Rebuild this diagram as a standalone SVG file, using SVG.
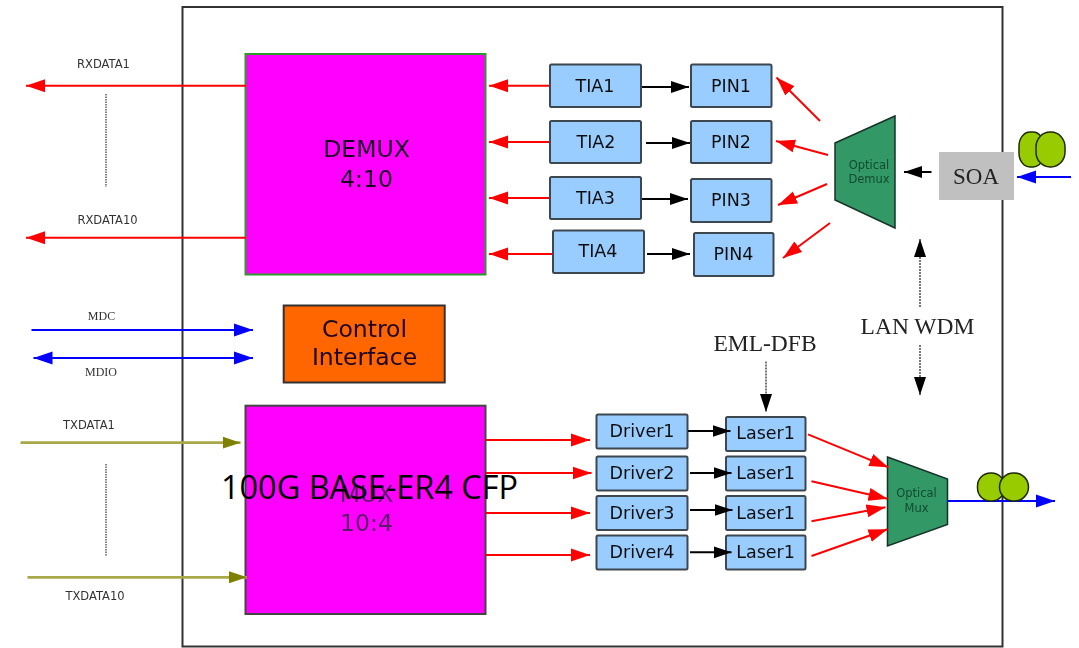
<svg xmlns="http://www.w3.org/2000/svg" width="1079" height="648" viewBox="0 0 1079 648">
<defs>
<filter id="soft" x="0" y="0" width="1079" height="648" filterUnits="userSpaceOnUse"><feGaussianBlur stdDeviation="0.7"/></filter>
<marker id="hr" markerUnits="userSpaceOnUse" markerWidth="20" markerHeight="14" refX="19" refY="7" orient="auto-start-reverse"><path d="M0 0.5L19 7L0 13.5Z" fill="#ff0000"/></marker>
<marker id="hk" markerUnits="userSpaceOnUse" markerWidth="20" markerHeight="14" refX="18" refY="7" orient="auto-start-reverse"><path d="M0 1L18 7L0 13Z" fill="#000000"/></marker>
<marker id="hb" markerUnits="userSpaceOnUse" markerWidth="20" markerHeight="14" refX="19" refY="7" orient="auto-start-reverse"><path d="M0 0.5L19 7L0 13.5Z" fill="#0000ff"/></marker>
<marker id="ho" markerUnits="userSpaceOnUse" markerWidth="20" markerHeight="14" refX="18" refY="7" orient="auto-start-reverse"><path d="M0 1L18 7L0 13Z" fill="#808000"/></marker>
</defs>
<style>
text{font-family:"DejaVu Sans",sans-serif;fill:#111;text-anchor:middle}
.serif{font-family:"Liberation Serif",serif;fill:#222}
.blk{fill:#99ccff;stroke:#3c4650;stroke-width:2}
.mag{fill:#ff00ff;stroke-width:2}
.opt{fill:#339966;stroke:#17332a;stroke-width:1.5}
.fib{fill:#99cc00;stroke:#1e2a00;stroke-width:1.5}
.lbl{font-size:17.5px}
.sm{font-size:11.5px;fill:#333}
.smserif{font-family:"Liberation Serif",serif;font-size:12px;fill:#333}
.big{font-size:23.5px;fill:#1a0426}
.optt{font-size:11.5px;fill:#104a30}
.wdm{font-size:23.5px}
.r{stroke:#ff0000;stroke-width:2;fill:none;marker-end:url(#hr)}
.k{stroke:#000;stroke-width:2;fill:none;marker-end:url(#hk)}
.d{stroke:#222;stroke-width:1.2;stroke-dasharray:2 1;fill:none;marker-end:url(#hk)}
.b{stroke:#0000ff;stroke-width:2;fill:none;marker-end:url(#hb)}
.o{stroke:#a8a84a;stroke-width:2.8;fill:none;marker-end:url(#ho)}
.dots{stroke:#666;stroke-width:1.6;stroke-dasharray:1.5 1;fill:none}
</style>
<g filter="url(#soft)">
<rect id="frame" x="182.5" y="7" width="820" height="639.5" fill="none" stroke="#333" stroke-width="2"/>
<g id="labels">
<text class="sm" x="103.5" y="67.5">RXDATA1</text>
<text class="sm" x="107.5" y="224">RXDATA10</text>
<text class="smserif" x="101.5" y="320">MDC</text>
<text class="smserif" x="101" y="375.5">MDIO</text>
<text class="sm" x="89" y="429">TXDATA1</text>
<text class="sm" x="95" y="600">TXDATA10</text>
<text class="serif wdm" x="917.5" y="334">LAN WDM</text>
<text class="serif wdm" x="765" y="350.5">EML-DFB</text>
</g>
<g id="demux"><rect class="mag" x="245.5" y="54" width="240" height="220.5" stroke="#2f9a2f"/><text class="big" x="366.5" y="157">DEMUX</text><text class="big" x="366.5" y="186.5">4:10</text></g>
<g id="mux"><rect class="mag" x="245.5" y="405.7" width="240" height="208.3" stroke="#444"/><text class="big" x="366.5" y="502" style="fill:#5a1a6a">MUX</text><text class="big" x="366.5" y="531" style="fill:#5a1a6a">10:4</text></g>
<g id="control"><rect x="283.7" y="305.5" width="161" height="77" fill="#ff6600" stroke="#333" stroke-width="2"/><text class="big" x="364.5" y="337">Control</text><text class="big" x="364.5" y="365">Interface</text></g>
<g id="tia1"><rect class="blk" x="550" y="64.5" width="91" height="42.5" rx="1.5"/><text class="lbl" x="595" y="92">TIA1</text></g>
<g id="tia2"><rect class="blk" x="550" y="121" width="91" height="42" rx="1.5"/><text class="lbl" x="596" y="147.5">TIA2</text></g>
<g id="tia3"><rect class="blk" x="550" y="177" width="91" height="42" rx="1.5"/><text class="lbl" x="595.5" y="204">TIA3</text></g>
<g id="tia4"><rect class="blk" x="553" y="230.5" width="91" height="42.5" rx="1.5"/><text class="lbl" x="598" y="256.5">TIA4</text></g>
<g id="pin1"><rect class="blk" x="691" y="64.5" width="80.5" height="42.5" rx="1.5"/><text class="lbl" x="731" y="92">PIN1</text></g>
<g id="pin2"><rect class="blk" x="691" y="121" width="80.5" height="42" rx="1.5"/><text class="lbl" x="731" y="147.5">PIN2</text></g>
<g id="pin3"><rect class="blk" x="691" y="179" width="80.5" height="43" rx="1.5"/><text class="lbl" x="731" y="206">PIN3</text></g>
<g id="pin4"><rect class="blk" x="694" y="233" width="79.5" height="43" rx="1.5"/><text class="lbl" x="733.5" y="259.5">PIN4</text></g>
<g id="optical-demux"><polygon class="opt" points="835,143 895,116 895,228 835,200"/><text class="optt" x="869" y="168.5">Optical</text><text class="optt" x="869" y="183">Demux</text></g>
<g id="soa"><rect x="939" y="152" width="75" height="48" fill="#c0c0c0"/><text class="serif" style="font-size:23px" x="976" y="183.5">SOA</text></g>
<g id="fiber-in"><rect class="fib" x="1019" y="132" width="25" height="35" rx="11" ry="14"/><rect class="fib" x="1036" y="132" width="29" height="35" rx="14" ry="15"/></g>
<g id="driver1"><rect class="blk" x="596.5" y="414.5" width="91" height="34" rx="1.5"/><text class="lbl" x="642" y="437">Driver1</text></g>
<g id="driver2"><rect class="blk" x="596.5" y="456.5" width="91" height="34" rx="1.5"/><text class="lbl" x="642" y="479">Driver2</text></g>
<g id="driver3"><rect class="blk" x="596.5" y="496" width="91" height="34" rx="1.5"/><text class="lbl" x="642" y="519">Driver3</text></g>
<g id="driver4"><rect class="blk" x="596.5" y="535.5" width="91" height="34" rx="1.5"/><text class="lbl" x="642" y="558">Driver4</text></g>
<g id="laser1"><rect class="blk" x="726" y="417" width="79.5" height="34" rx="1.5"/><text class="lbl" x="765.5" y="439">Laser1</text></g>
<g id="laser2"><rect class="blk" x="726" y="456.5" width="79.5" height="34" rx="1.5"/><text class="lbl" x="765.5" y="479">Laser1</text></g>
<g id="laser3"><rect class="blk" x="726" y="496" width="79.5" height="34" rx="1.5"/><text class="lbl" x="765.5" y="519">Laser1</text></g>
<g id="laser4"><rect class="blk" x="726" y="535.5" width="79.5" height="34" rx="1.5"/><text class="lbl" x="765.5" y="558">Laser1</text></g>
<g id="optical-mux"><polygon class="opt" points="887.5,457 947.5,479 947.5,524.5 887.5,546"/><text class="optt" x="916.5" y="497">Optical</text><text class="optt" x="916.5" y="511.5">Mux</text></g>
<g id="connectors">
<path class="r" d="M246 85.7H26"/><path class="r" d="M246 237.7H26"/>
<path class="r" d="M549 85.7H489"/><path class="r" d="M549 142H489"/><path class="r" d="M549 198H489"/><path class="r" d="M552 254H489"/>
<path class="k" d="M642 87H689"/><path class="k" d="M646 143H690"/><path class="k" d="M642 199H688"/><path class="k" d="M647 254H690"/>
<path class="r" d="M820 121L776.5 77.5"/><path class="r" d="M828 155L776 141"/><path class="r" d="M827 184L778 205"/><path class="r" d="M830 223L783 258"/>
<path class="k" d="M931.5 172H904"/>
<path class="b" d="M1071 177H1017"/>
<path class="d" d="M920 307V239"/><path class="d" d="M920 345V395"/><path class="d" d="M766 361.5V412"/>
<path class="dots" d="M106 94V187"/><path class="dots" d="M106 464V556"/>
<path class="b" d="M31.5 330H253"/><path class="b" style="marker-start:url(#hb)" d="M33.5 358H253"/>
<path class="o" d="M20.5 442.7H240.5"/><path class="o" d="M27.5 577.3H247"/>
<path class="r" d="M486 440H590"/><path class="r" d="M486 473H591.5"/><path class="r" d="M486 513H590"/><path class="r" d="M486 555H590"/>
<path class="k" d="M688 431H730.5"/><path class="k" d="M690 473H731.5"/><path class="k" d="M690 510H732.5"/><path class="k" d="M690 552.3H731.5"/>
<path class="r" d="M808 434.3L888.3 467.3"/><path class="r" d="M811.5 481.3L887.5 498.7"/><path class="r" d="M811.5 521.3L885.5 507.3"/><path class="r" d="M811.5 556L887.5 529.3"/>
<path class="b" d="M947.5 501H1055"/>
</g>
<g id="fiber-out"><rect class="fib" x="977.5" y="473" width="27" height="28" rx="13" ry="13"/><rect class="fib" x="999.5" y="473" width="29" height="28" rx="14" ry="14"/></g>
</g>
<text x="369.5" y="499" style="font-family:'Open Sans',sans-serif;font-size:32px;fill:#000" textLength="297" lengthAdjust="spacingAndGlyphs">100G BASE-ER4 CFP</text>
</svg>
